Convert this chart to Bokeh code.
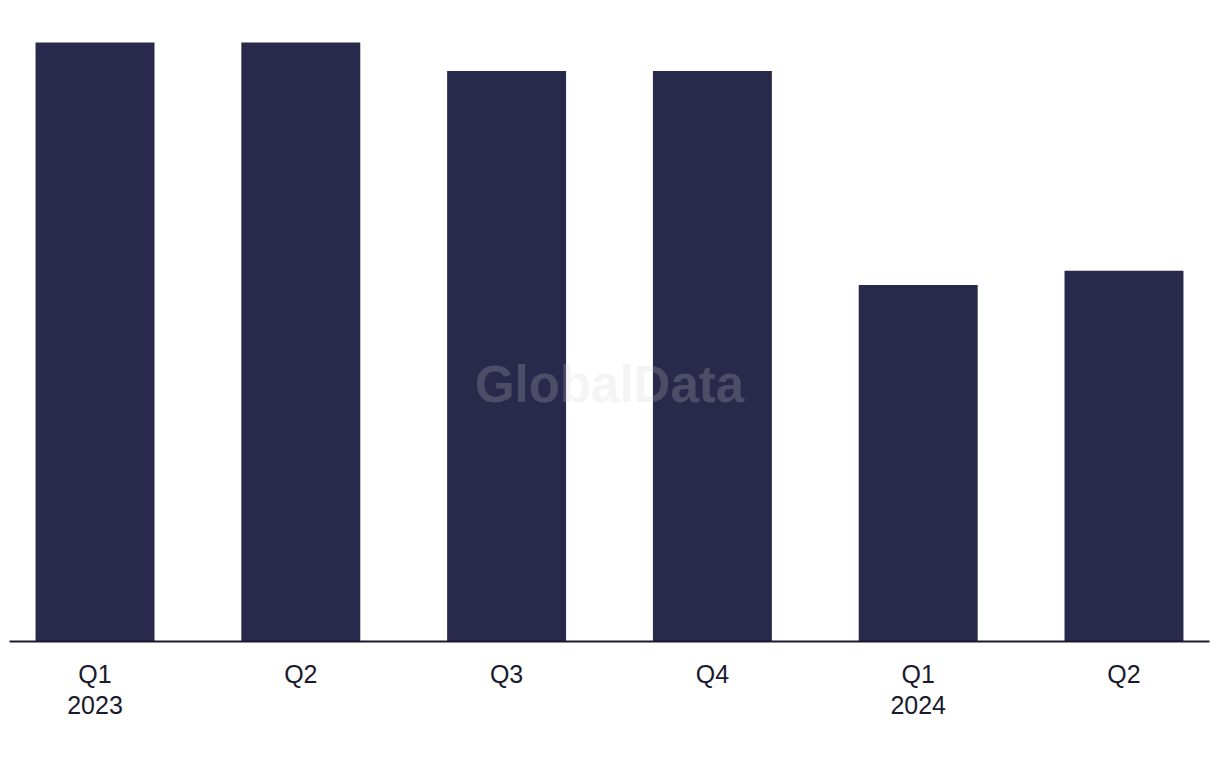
from bokeh.plotting import figure
from bokeh.models import Range1d, Label, FixedTicker
from bokeh.embed import file_html
from bokeh.resources import INLINE

quarters = ["Q1\n2023", "Q2", "Q3", "Q4", "Q1\n2024", "Q2"]
values = [42, 42, 40, 40, 25, 26]

xs = list(range(len(quarters)))

p = figure(frame_width=1200, frame_height=633, output_backend="svg", toolbar_location=None,
           x_range=Range1d(-0.4155, 5.4155), y_range=Range1d(0, 44.38),
           min_border_left=9, min_border_right=2, min_border_top=8, min_border_bottom=0)

p.vbar(x=xs, top=values, width=0.578, bottom=0, color="#29294b", line_color=None)

p.outline_line_color = None
p.grid.visible = False
p.yaxis.visible = False
p.background_fill_color = None

ax = p.xaxis[0]
ax.ticker = FixedTicker(ticks=xs)
ax.major_label_overrides = {i: q for i, q in enumerate(quarters)}
ax.axis_line_color = "#1a1a2e"
ax.axis_line_width = 2
ax.major_tick_line_color = None
ax.minor_tick_line_color = None
ax.major_label_text_font = "Liberation Sans"
ax.major_label_text_font_size = "25px"
ax.major_label_text_color = "#1a1a2e"
ax.major_label_text_line_height = 1.12
ax.major_label_standoff = 12

wm = Label(x=2.5, y=18, text="GlobalData", text_align="center", text_baseline="middle",
           text_font="Liberation Sans", text_font_style="bold", text_font_size="51px",
           text_color="#cdcdd2", text_alpha=0.22)
p.add_layout(wm)

open("out.html", "w").write(file_html(p, INLINE))
